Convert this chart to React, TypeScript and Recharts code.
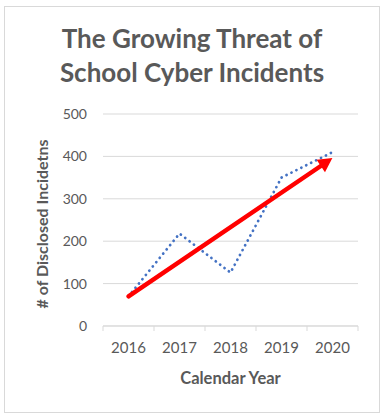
import { LineChart, Line, XAxis, YAxis, CartesianGrid } from "recharts";

const years = [2016, 2017, 2018, 2019, 2020];
const incidents = [70, 218, 126, 350, 410];
// red trend arrow, start and end (end sits just short of the head tip)
const trendYears = [2016, 2019.9];
const trendValues = [70, 388];
const yTicks = [0, 100, 200, 300, 400, 500];
const titleLines = ["The Growing Threat of", "School Cyber Incidents"];
const xTitle = "Calendar Year";
const yTitle = "# of Disclosed Incidetns";

const data = years.map((year, i) => ({ year, incidents: incidents[i] }));
const trendData = trendYears.map((year, i) => ({ year, value: trendValues[i] }));
// label ticks on the years, small marks on the boundaries between them
const xTicks = [...years.flatMap((y) => [y - 0.5, y]), years[years.length - 1] + 0.5];

const textColor = "#595959";
const gridColor = "#d9d9d9";
const font = "Lato, 'Open Sans', sans-serif";

function XTick(props: any) {
  const { x, y, payload } = props;
  if (!Number.isInteger(payload.value)) {
    return <line x1={x} x2={x} y1={y} y2={y + 5} stroke={gridColor} strokeWidth={1} />;
  }
  return (
    <text x={x} y={y + 27} textAnchor="middle" fill={textColor} fontSize={15} fontFamily={font}>
      {payload.value}
    </text>
  );
}

let trendStart: { x: number; y: number } | null = null;

function ArrowHead(props: any) {
  const { cx, cy, index, points } = props;
  if (index === 0) trendStart = { x: cx, y: cy };
  if (index !== trendYears.length - 1) return <g key={`head-${index}`} />;
  const s = points && points[0] ? points[0] : trendStart;
  if (!s) return <g key={`head-${index}`} />;
  const dx = cx - s.x;
  const dy = cy - s.y;
  const len = Math.sqrt(dx * dx + dy * dy) || 1;
  const ux = dx / len;
  const uy = dy / len;
  const tipX = cx + ux * 6;
  const tipY = cy + uy * 6;
  const bx = tipX - ux * 14;
  const by = tipY - uy * 14;
  const hw = 7.5;
  const pts = `${tipX},${tipY} ${bx - uy * hw},${by + ux * hw} ${bx + uy * hw},${by - ux * hw}`;
  return <polygon key={`head-${index}`} points={pts} fill="#ff0000" />;
}

export default function App() {
  return (
    <div style={{ position: "absolute", left: 0, top: 0, width: 387, height: 420, background: "#fff", fontFamily: font }}>
      <div
        style={{
          position: "absolute",
          left: 4,
          top: 6,
          width: 376,
          height: 407,
          border: `1px solid ${gridColor}`,
          boxSizing: "border-box",
        }}
      />
      <LineChart width={387} height={420} data={data} margin={{ top: 114, right: 29, bottom: 64, left: 63 }}>
        <CartesianGrid vertical={false} stroke={gridColor} />
        <XAxis
          type="number"
          dataKey="year"
          domain={[years[0] - 0.5, years[years.length - 1] + 0.5]}
          ticks={xTicks}
          interval={0}
          tick={<XTick />}
          tickLine={false}
          tickSize={0}
          tickMargin={0}
          height={30}
          axisLine={{ stroke: gridColor }}
        />
        <YAxis
          domain={[0, 500]}
          ticks={yTicks}
          width={40}
          axisLine={false}
          tickLine={false}
          tickSize={0}
          tickMargin={16}
          tick={{ fill: textColor, fontSize: 14, fontFamily: font }}
        />
        <Line
          dataKey="incidents"
          stroke="#4472c4"
          strokeWidth={2.75}
          strokeDasharray="0.1 5.4"
          strokeLinecap="round"
          dot={false}
          isAnimationActive={false}
        />
        <Line
          data={trendData}
          dataKey="value"
          stroke="#ff0000"
          strokeWidth={4.5}
          strokeLinecap="round"
          dot={ArrowHead}
          activeDot={false}
          isAnimationActive={false}
        />
      </LineChart>
      <svg width={387} height={420} style={{ position: "absolute", left: 0, top: 0, pointerEvents: "none" }}>
        {titleLines.map((line, i) => (
          <text key={line} x={192} y={48 + i * 34} textAnchor="middle" fill={textColor} fontSize={26} fontWeight="bold" fontFamily={font}>
            {line}
          </text>
        ))}
        <text x={230.5} y={384} textAnchor="middle" fill={textColor} fontSize={16.5} fontWeight="bold" fontFamily={font}>
          {xTitle}
        </text>
        <text x={48} y={224} transform="rotate(-90 48 224)" textAnchor="middle" fill={textColor} fontSize={16} fontWeight="bold" fontFamily={font}>
          {yTitle}
        </text>
      </svg>
    </div>
  );
}
